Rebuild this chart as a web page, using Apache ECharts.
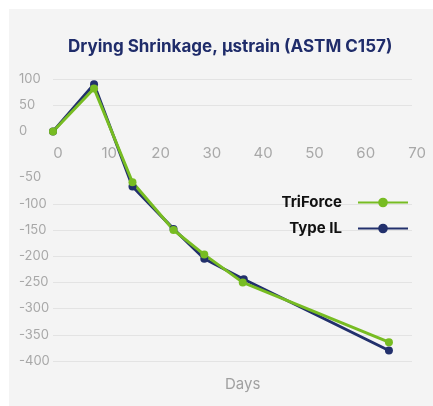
<!DOCTYPE html>
<html>
<head>
<meta charset="utf-8">
<script src="https://cdn.jsdelivr.net/npm/echarts@6/dist/echarts.min.js"></script>
<style>
  html, body { margin: 0; padding: 0; background: #fff; }
  #main { width: 433px; height: 406px; }
</style>
</head>
<body>
<div id="main"></div>
<script>
// data
const seriesNames = ['TriForce', 'Type IL'];
const triDays = [0, 8, 15.5, 23.5, 29.5, 37, 65.5];
const triValues = [0, 82, -59, -150, -197, -250, -364];
const ilDays = [0, 8, 15.5, 23.5, 29.5, 37.2, 65.5];
const ilValues = [0, 90, -67, -148, -205, -244, -380];
const xTicks = [0, 10, 20, 30, 40, 50, 60, 70];
const yTicks = [100, 50, 0, -50, -100, -150, -200, -250, -300, -350, -400];

const green = '#77bc22';
const navy = '#22306c';

function pairs(xs, ys) {
  return xs.map((x, i) => [x, ys[i]]);
}

const myChart = echarts.init(document.getElementById('main'));

const option = {
  backgroundColor: '#ffffff',
  animation: false,
  graphic: [
    {
      type: 'rect',
      z: -10,
      shape: { x: 9, y: 9, width: 430, height: 400 },
      style: { fill: '#f4f4f4' }
    }
  ],
  title: [
    {
      text: 'Drying Shrinkage, µstrain (ASTM C157)',
      left: 63,
      top: 33,
      textStyle: { fontFamily: 'Inter', fontWeight: 700, fontSize: 17, color: '#1f2c6a' }
    },
    {
      text: 'Days',
      left: 220,
      top: 372,
      textStyle: { fontFamily: 'Inter', fontWeight: 400, fontSize: 15, color: '#a0a0a0' }
    }
  ],
  legend: {
    data: seriesNames,
    orient: 'vertical',
    align: 'right',
    right: 19,
    top: 190,
    itemWidth: 50,
    itemHeight: 12,
    itemGap: 11,
    textStyle: { fontFamily: 'Inter', fontWeight: 700, fontSize: 15, color: '#111', padding: [0, 11, 0, 0] }
  },
  grid: { left: 53, right: 21, top: 79, bottom: 45 },
  xAxis: {
    type: 'value',
    position: 'top',
    offset: -86,
    min: xTicks[0],
    max: xTicks[xTicks.length - 1],
    interval: 10,
    axisLine: { show: false, onZero: false },
    axisTick: { show: false },
    splitLine: { show: false },
    axisLabel: {
      margin: 4,
      fontFamily: 'Inter',
      fontSize: 15,
      color: '#a8a8a8',
      padding: [0, 0, 0, 10]
    }
  },
  yAxis: {
    type: 'value',
    min: yTicks[yTicks.length - 1],
    max: yTicks[0],
    interval: 50,
    // the band between 0 and -50 is drawn taller in the original
    breaks: [{ start: -50, end: 0, gap: 88 }],
    breakArea: { show: false },
    axisLine: { show: false },
    axisTick: { show: false },
    splitLine: { lineStyle: { color: '#e3e3e3', width: 1 } },
    axisLabel: {
      align: 'left',
      margin: 34,
      fontFamily: 'Inter',
      fontSize: 13,
      color: '#a8a8a8'
    }
  },
  series: [
    {
      name: 'Type IL',
      type: 'line',
      data: pairs(ilDays, ilValues),
      symbol: 'circle',
      symbolSize: 8,
      color: navy,
      lineStyle: { width: 3 }
    },
    {
      name: 'TriForce',
      type: 'line',
      data: pairs(triDays, triValues),
      symbol: 'circle',
      symbolSize: 8,
      color: green,
      lineStyle: { width: 3 }
    }
  ]
};

myChart.setOption(option);
</script>
</body>
</html>
